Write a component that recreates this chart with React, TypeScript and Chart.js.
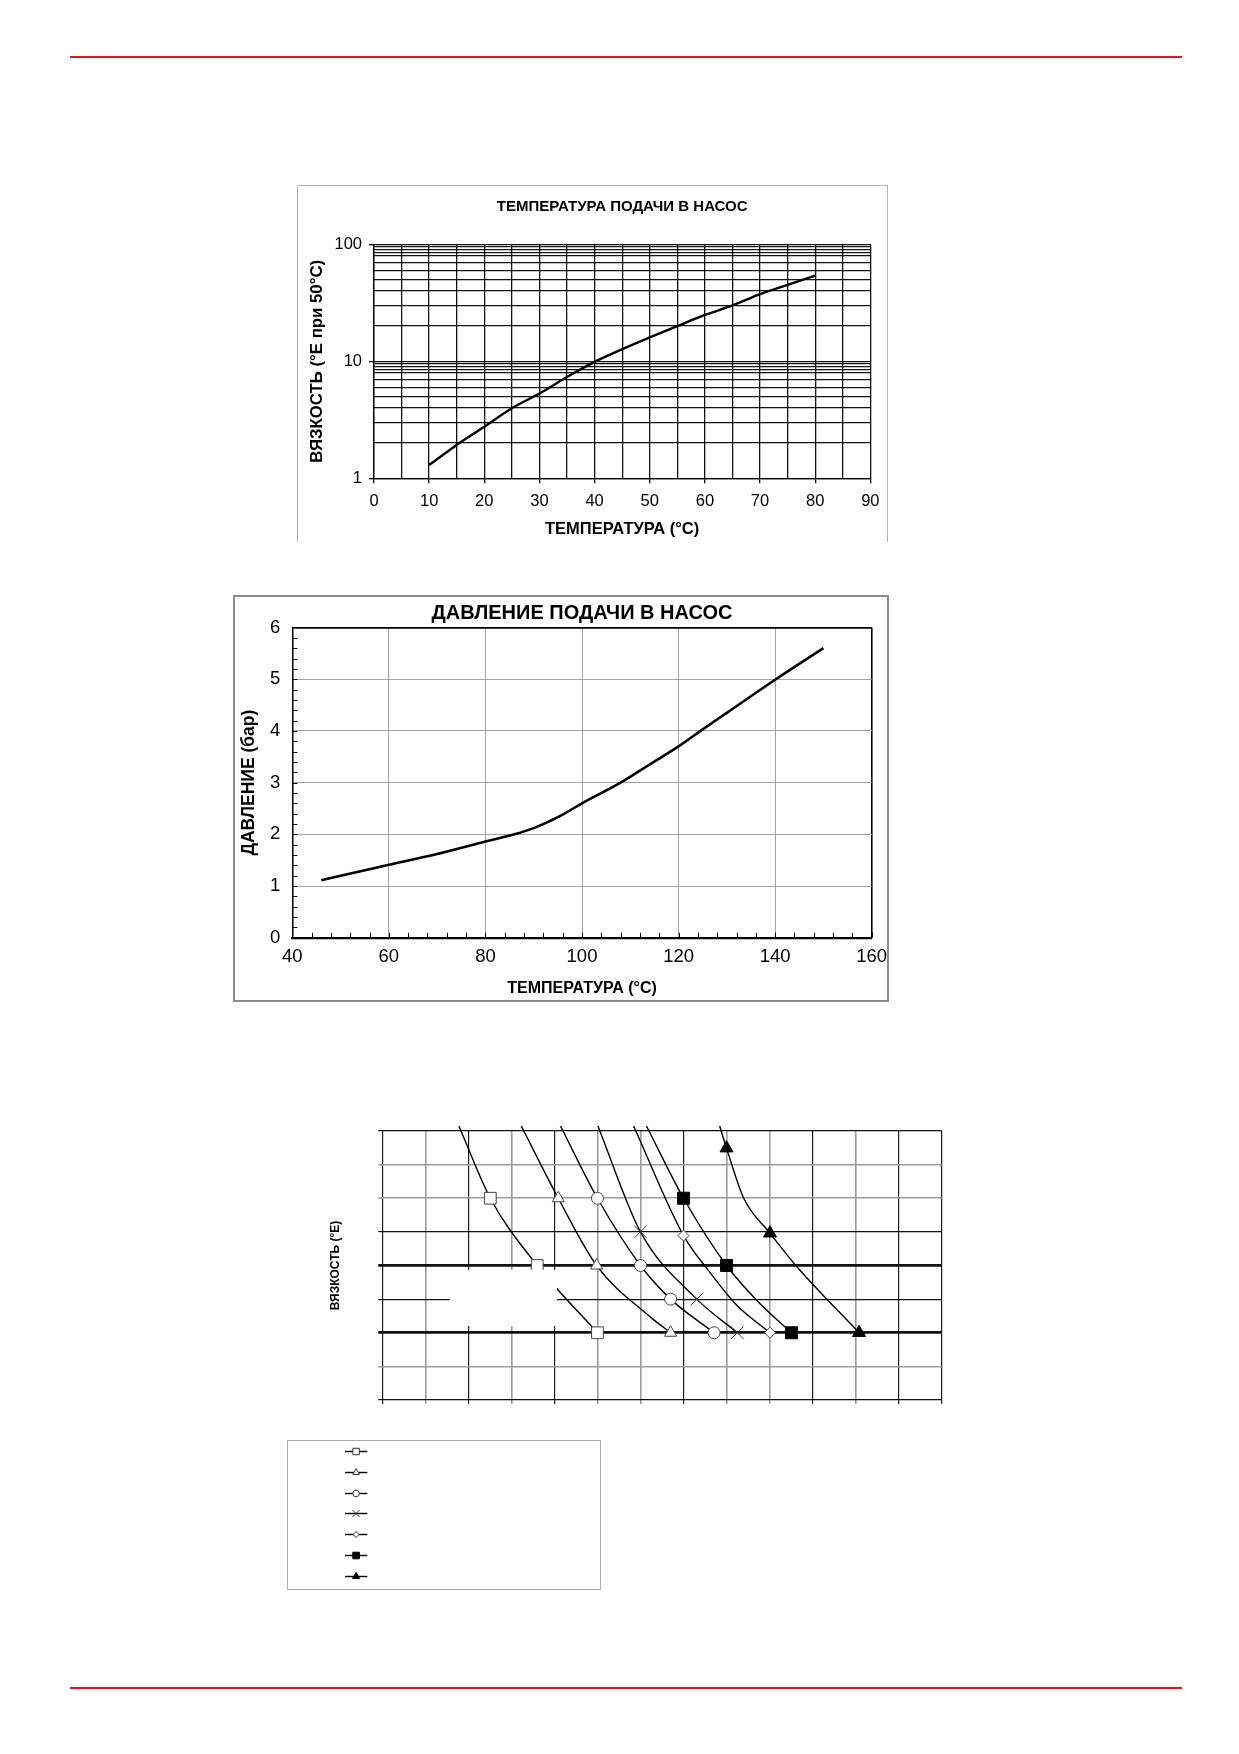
import { useEffect, useRef } from "react";
import { Chart, registerables } from "chart.js";
import { drawPoint } from "chart.js/helpers";

Chart.register(...registerables);

const FONT = "'Liberation Sans', Arial, Helvetica, sans-serif";
Chart.defaults.font.family = FONT;
Chart.defaults.color = "#000";

// chart 1 - viscosity vs supply temperature (log scale)
const VISC_TEMP = [10, 15, 20, 25, 30, 35, 40, 45, 50, 55, 60, 65, 70, 75, 80];
const VISC_E = [1.3, 1.93, 2.76, 3.97, 5.3, 7.35, 9.9, 12.7, 16, 20, 24.9, 30, 37.5, 45, 54];
const VISC_GRID = [1, 2, 3, 4, 5, 6, 7, 8, 8.5, 9, 9.5, 10, 20, 30, 40, 50, 60, 70, 80, 85, 90, 95, 100];
const VISC_LABELS = [1, 10, 100];

// chart 2 - supply pressure vs temperature
const PRESS_TEMP = [46, 50, 60, 70, 80, 86, 90, 96, 100, 108, 114, 120, 125, 130, 140, 150];
const PRESS_BAR = [1.11, 1.2, 1.41, 1.62, 1.86, 2.0, 2.12, 2.38, 2.6, 3.0, 3.35, 3.7, 4.03, 4.35, 4.99, 5.6];

// chart 3 - viscosity curves, no scale labels (grid units)
const CURVE_X = [
  [1.78, 2.51, 3.6, 5.0],
  [3.23, 4.09, 4.98, 6.22, 6.7],
  [4.14, 5.0, 6.0, 6.7, 7.71],
  [5.01, 6.0, 7.31, 8.25],
  [5.84, 7.0, 7.55, 8.25, 9.01],
  [6.14, 7.0, 8.0, 8.75, 9.51],
  [7.84, 8.0, 8.4, 9.01, 9.63, 11.08],
];
const CURVE_Y = [
  [8.15, 6, 4, 2],
  [8.15, 6, 4, 2.48, 2],
  [8.15, 6, 4, 3, 2],
  [8.15, 5, 3, 2],
  [8.15, 4.89, 3.9, 2.8, 2],
  [8.15, 6, 4, 2.9, 2],
  [8.15, 7.49, 6.0, 4.96, 3.97, 2],
];
const CURVE_MARK = [
  [0, 1, 1, 1],
  [0, 1, 1, 0, 1],
  [0, 1, 1, 1, 1],
  [0, 1, 1, 1],
  [0, 1, 0, 0, 1],
  [0, 1, 1, 0, 1],
  [0, 1, 0, 1, 0, 1],
];

const MARKERS = [
  { style: "rect", r: 8.3, filled: false },
  { style: "triangle", r: 7, filled: false },
  { style: "circle", r: 6, filled: false },
  { style: "crossRot", r: 9, filled: false },
  { style: "rectRot", r: 5.5, filled: false },
  { style: "rect", r: 8.5, filled: true },
  { style: "triangle", r: 7.5, filled: true },
];

const X_DARK = [1, 0, 1, 0, 1, 0, 0, 1, 0, 0, 1, 0, 1, 1];
const Y_KIND = ["d", "g", "t", "d", "t", "d", "g", "g", "d"];

function ChartCanvas({ make, left, top, width, height }: any) {
  const ref = useRef<HTMLCanvasElement>(null);
  useEffect(() => {
    if (!ref.current) return;
    const chart = new Chart(ref.current, make());
    return () => chart.destroy();
  }, []);
  return (
    <canvas
      ref={ref}
      width={width}
      height={height}
      style={{ position: "absolute", left, top, width, height }}
    />
  );
}

function viscosityConfig(): any {
  return {
    type: "line",
    data: {
      datasets: [
        {
          data: VISC_TEMP.map((t, i) => ({ x: t, y: VISC_E[i] })),
          borderColor: "#000",
          borderWidth: 2.4,
          pointRadius: 0,
          cubicInterpolationMode: "monotone",
          fill: false,
        },
      ],
    },
    options: {
      responsive: false,
      animation: false,
      events: [],
      layout: { padding: { left: 0, right: 17, top: 0, bottom: 0 } },
      plugins: {
        legend: { display: false },
        tooltip: { enabled: false },
        title: {
          display: true,
          fullSize: false,
          text: "ТЕМПЕРАТУРА ПОДАЧИ В НАСОС",
          color: "#000",
          font: { size: 15, weight: "bold" },
          padding: { top: 13.3, bottom: 28 },
        },
      },
      scales: {
        x: {
          type: "linear",
          min: 0,
          max: 90,
          ticks: {
            stepSize: 5,
            autoSkip: false,
            maxRotation: 0,
            minRotation: 0,
            padding: 8.5,
            font: { size: 16.5 },
            callback: (v: number) => (v % 10 === 0 ? String(v) : ""),
          },
          grid: {
            color: "#111",
            lineWidth: 1.3,
            tickLength: 5,
            tickColor: (c: any) => (c.tick && c.tick.value % 10 === 0 ? "#000" : "rgba(0,0,0,0)"),
          },
          border: { color: "#000", width: 1.3 },
          title: {
            display: true,
            text: "ТЕМПЕРАТУРА (°C)",
            font: { size: 16.5, weight: "bold" },
            padding: { top: 0, bottom: 2.8 },
          },
          afterFit: (s: any) => {
            s.height = 63.7;
          },
        },
        y: {
          type: "logarithmic",
          min: 1,
          max: 100,
          afterBuildTicks: (s: any) => {
            s.ticks = VISC_GRID.map((v) => ({ value: v }));
          },
          ticks: {
            autoSkip: false,
            padding: 7,
            font: { size: 16.5 },
            callback: (v: number) => (VISC_LABELS.includes(Number(v)) ? String(v) : ""),
          },
          grid: {
            color: "#111",
            lineWidth: 1.3,
            tickLength: 5,
            tickColor: (c: any) =>
              c.tick && VISC_LABELS.includes(c.tick.value) ? "#000" : "rgba(0,0,0,0)",
          },
          border: { color: "#000", width: 1.3 },
          title: {
            display: true,
            text: "ВЯЗКОСТЬ (°E при 50°C)",
            font: { size: 16.8, weight: "bold" },
            padding: { top: 10, bottom: 0 },
          },
          afterFit: (s: any) => {
            s.width = 77;
          },
        },
      },
    },
  };
}

const minorTicks = {
  id: "minorTicks",
  afterDatasetsDraw(chart: any) {
    const { ctx, chartArea, scales } = chart;
    const { x, y } = scales;
    ctx.save();
    ctx.strokeStyle = "#000";
    ctx.lineWidth = 1;
    for (let v = 0; v <= 6.001; v += 0.2) {
      const py = Math.round(y.getPixelForValue(v)) + 0.5;
      ctx.beginPath();
      ctx.moveTo(chartArea.left, py);
      ctx.lineTo(chartArea.left + 5, py);
      ctx.stroke();
    }
    for (let t = 40; t <= 160; t += 4) {
      const px = Math.round(x.getPixelForValue(t)) + 0.5;
      ctx.beginPath();
      ctx.moveTo(px, chartArea.bottom);
      ctx.lineTo(px, chartArea.bottom - 5);
      ctx.stroke();
    }
    ctx.restore();
  },
};

function pressureConfig(): any {
  return {
    type: "line",
    data: {
      datasets: [
        {
          data: PRESS_TEMP.map((t, i) => ({ x: t, y: PRESS_BAR[i] })),
          borderColor: "#000",
          borderWidth: 2.6,
          pointRadius: 0,
          cubicInterpolationMode: "monotone",
          fill: false,
        },
      ],
    },
    plugins: [minorTicks],
    options: {
      responsive: false,
      animation: false,
      events: [],
      layout: { padding: { left: 0, right: 28.3, top: 0, bottom: 0 } },
      plugins: {
        legend: { display: false },
        tooltip: { enabled: false },
        title: {
          display: true,
          fullSize: false,
          text: "ДАВЛЕНИЕ ПОДАЧИ В НАСОС",
          color: "#000",
          font: { size: 20, weight: "bold" },
          padding: { top: 4, bottom: 2.5 },
        },
      },
      scales: {
        x: {
          type: "linear",
          min: 40,
          max: 160,
          ticks: {
            stepSize: 20,
            autoSkip: false,
            maxRotation: 0,
            minRotation: 0,
            padding: 7.9,
            font: { size: 18.5 },
          },
          grid: {
            drawTicks: false,
            color: (c: any) => (c.tick && c.tick.value === 160 ? "#000" : "#a3a3a3"),
            lineWidth: (c: any) => (c.tick && c.tick.value === 160 ? 1.6 : 1),
          },
          border: { color: "#000", width: 2.2 },
          title: {
            display: true,
            text: "ТЕМПЕРАТУРА (°C)",
            font: { size: 16, weight: "bold" },
            padding: { top: 0, bottom: 1.4 },
          },
          afterFit: (s: any) => {
            s.height = 62.3;
          },
        },
        y: {
          type: "linear",
          min: 0,
          max: 6,
          ticks: { stepSize: 1, padding: 12, font: { size: 18.5 } },
          grid: {
            drawTicks: false,
            color: (c: any) => (c.tick && c.tick.value === 6 ? "#000" : "#a3a3a3"),
            lineWidth: (c: any) => (c.tick && c.tick.value === 6 ? 1.8 : 1),
          },
          border: { color: "#000", width: 1.5 },
          title: {
            display: true,
            text: "ДАВЛЕНИЕ (бар)",
            font: { size: 17.5, weight: "bold" },
            padding: { top: 3.5, bottom: 0 },
          },
          afterFit: (s: any) => {
            s.width = 57.3;
          },
        },
      },
    },
  };
}

// white patch that covers part of the grid in the original scan (grid units)
const MASK = { x0: 1.57, x1: 4.06, y0: 2.2, y1: 3.87 };

const maskPatch = {
  id: "maskPatch",
  afterDatasetsDraw(chart: any) {
    const { ctx, scales } = chart;
    const { x, y } = scales;
    const l = x.getPixelForValue(MASK.x0);
    const r = x.getPixelForValue(MASK.x1);
    const t = y.getPixelForValue(MASK.y1);
    const b = y.getPixelForValue(MASK.y0);
    ctx.save();
    ctx.fillStyle = "#fff";
    ctx.fillRect(l, t, r - l, b - t);
    ctx.restore();
  },
};

const boxLegend = {
  id: "boxLegend",
  afterDraw(chart: any) {
    const { ctx } = chart;
    ctx.save();
    ctx.strokeStyle = "#aaa";
    ctx.lineWidth = 1;
    ctx.strokeRect(7.5, 340.5, 313, 149);
    chart.data.datasets.forEach((ds: any, i: number) => {
      const m = MARKERS[i];
      const cy = Math.round(350.7 + i * 20.9) + 0.5;
      ctx.strokeStyle = "#000";
      ctx.lineWidth = 1.4;
      ctx.beginPath();
      ctx.moveTo(65, cy);
      ctx.lineTo(87.3, cy);
      ctx.stroke();
      ctx.fillStyle = m.filled ? "#000" : "#fff";
      ctx.strokeStyle = m.filled ? "#000" : "#333";
      ctx.lineWidth = 1;
      drawPoint(ctx, { pointStyle: ds.pointStyle, radius: m.r * 0.55, rotation: 0, borderWidth: 1 }, 76.1, cy);
    });
    ctx.restore();
  },
};

function curvesConfig(): any {
  return {
    type: "line",
    data: {
      datasets: CURVE_X.map((xs, i) => {
        const m = MARKERS[i];
        return {
          data: xs.map((x, j) => ({ x, y: CURVE_Y[i][j] })),
          borderColor: "#000",
          borderWidth: 1.4,
          cubicInterpolationMode: "monotone",
          fill: false,
          clip: 8,
          pointStyle: m.style,
          pointRadius: CURVE_MARK[i].map((k) => (k ? m.r : 0)),
          pointBackgroundColor: m.filled ? "#000" : "#fff",
          pointBorderColor: m.filled ? "#000" : "#444",
          pointBorderWidth: 1,
        };
      }),
    },
    plugins: [maskPatch, boxLegend],
    options: {
      responsive: false,
      animation: false,
      events: [],
      layout: { padding: { left: 0, right: 18.3, top: 31, bottom: 196 } },
      plugins: { legend: { display: false }, tooltip: { enabled: false } },
      scales: {
        x: {
          type: "linear",
          min: 0,
          max: 13,
          ticks: { stepSize: 1, display: false },
          grid: {
            tickLength: 4,
            color: (c: any) => (X_DARK[c.index] ? "#1c1c1c" : "#9c9c9c"),
            lineWidth: (c: any) => (X_DARK[c.index] ? 1.2 : 1.6),
          },
          border: { display: false },
          afterFit: (s: any) => {
            s.height = 4;
          },
        },
        y: {
          type: "linear",
          min: 0,
          max: 8,
          ticks: { stepSize: 1, display: false },
          grid: {
            tickLength: 4,
            color: (c: any) => {
              const k = Y_KIND[c.tick ? c.tick.value : 0];
              return k === "g" ? "#9c9c9c" : "#111";
            },
            lineWidth: (c: any) => {
              const k = Y_KIND[c.tick ? c.tick.value : 0];
              return k === "t" ? 2.8 : k === "g" ? 1.6 : 1.2;
            },
          },
          border: { display: false },
          title: {
            display: true,
            text: "ВЯЗКОСТЬ (°E)",
            font: { size: 12, weight: "bold" },
            padding: { top: 48.2, bottom: 0 },
          },
          afterFit: (s: any) => {
            s.width = 102.3;
          },
        },
      },
    },
  };
}

const redLine = (top: number) => (
  <div
    style={{
      position: "absolute",
      left: 70,
      top,
      width: 1112,
      height: 2,
      background: "#e3141c",
    }}
  />
);

export default function App() {
  return (
    <div style={{ fontFamily: FONT }}>
      {redLine(56)}
      <div
        style={{
          position: "absolute",
          left: 297,
          top: 185,
          width: 591,
          height: 357,
          borderTop: "1px solid #b4b4b4",
          borderLeft: "1px solid #b4b4b4",
          borderRight: "1px solid #b4b4b4",
          boxSizing: "border-box",
        }}
      />
      <ChartCanvas make={viscosityConfig} left={297} top={185} width={591} height={357} />

      <ChartCanvas make={pressureConfig} left={235} top={597} width={665} height={403} />
      <div
        style={{
          position: "absolute",
          left: 233,
          top: 595,
          width: 656,
          height: 407,
          border: "2px solid #8c8c8c",
          boxSizing: "border-box",
          pointerEvents: "none",
        }}
      />

      <ChartCanvas make={curvesConfig} left={280} top={1100} width={680} height={500} />
      {redLine(1687)}
    </div>
  );
}
